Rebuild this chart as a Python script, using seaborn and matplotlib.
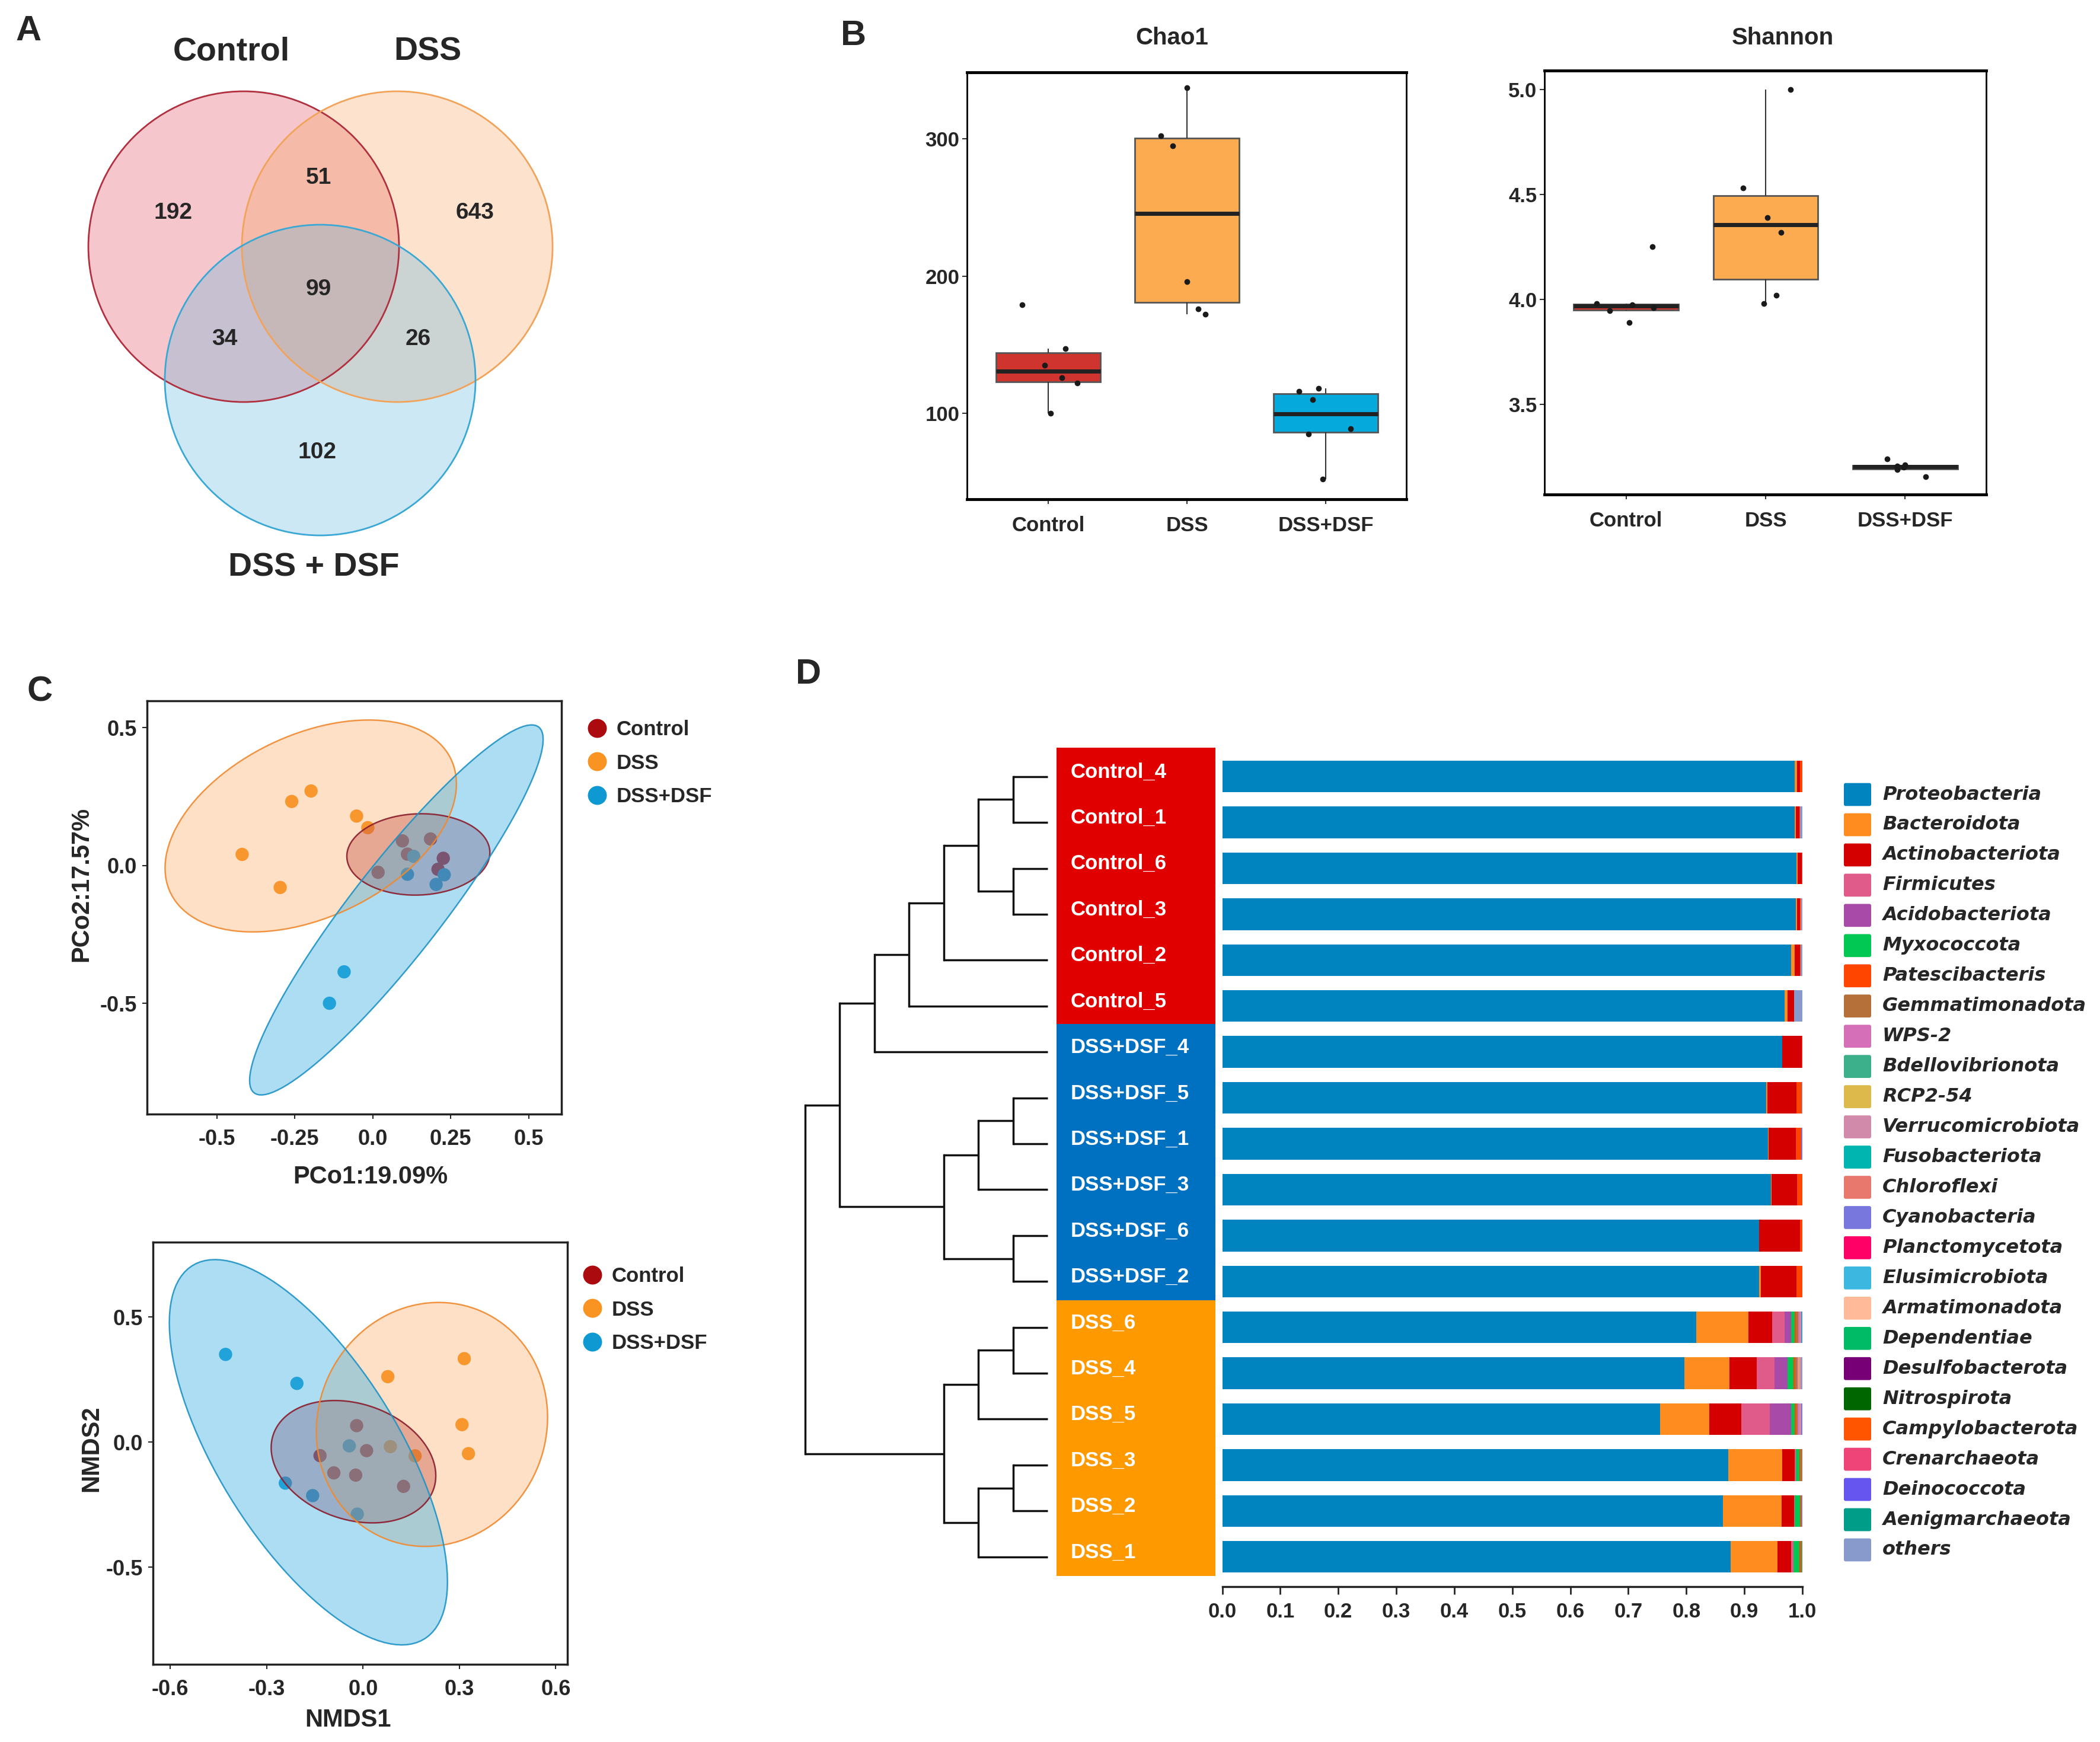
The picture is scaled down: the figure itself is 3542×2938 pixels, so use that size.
import numpy as np
import pandas as pd
import matplotlib
matplotlib.use('Agg')
import matplotlib.pyplot as plt
from matplotlib.patches import Circle, Polygon, Rectangle, FancyBboxPatch
from matplotlib.lines import Line2D
import seaborn as sns

# ---------------- data ----------------
groups = ['Control', 'DSS', 'DSS+DSF']
group_colors = ['#ab0a0f', '#f99321', '#0f99d3']

# Venn (OTU counts)
venn_sets = ['Control', 'DSS', 'DSS + DSF']
venn_regions = ['Control only', 'DSS only', 'DSS+DSF only', 'Control&DSS',
                'Control&DSS+DSF', 'DSS&DSS+DSF', 'all']
venn_counts = [192, 643, 102, 51, 34, 26, 99]

# alpha diversity
chao1_control = [179, 147, 135, 126, 122, 100]
chao1_dss = [337, 302, 295, 196, 176, 172]
chao1_dssdsf = [118, 116, 110, 89, 85, 52]
shannon_control = [4.25, 3.979, 3.974, 3.96, 3.945, 3.888]
shannon_dss = [5.0, 4.53, 4.39, 4.32, 4.02, 3.98]
shannon_dssdsf = [3.24, 3.21, 3.205, 3.2, 3.19, 3.155]

# PCoA
pcoa_control_x = [0.095, 0.185, 0.111, 0.226, 0.209, 0.017]
pcoa_control_y = [0.089, 0.096, 0.041, 0.026, -0.014, -0.025]
pcoa_dss_x = [-0.26, -0.198, -0.052, -0.016, -0.419, -0.297]
pcoa_dss_y = [0.232, 0.27, 0.179, 0.137, 0.04, -0.08]
pcoa_dsf_x = [0.131, 0.111, 0.229, 0.203, -0.092, -0.139]
pcoa_dsf_y = [0.033, -0.032, -0.034, -0.069, -0.386, -0.5]

# NMDS
nmds_control_x = [-0.02, 0.011, -0.134, -0.091, -0.023, 0.126]
nmds_control_y = [0.066, -0.034, -0.054, -0.123, -0.132, -0.177]
nmds_dss_x = [0.077, 0.315, 0.308, 0.328, 0.085, 0.162]
nmds_dss_y = [0.262, 0.334, 0.07, -0.046, -0.018, -0.055]
nmds_dsf_x = [-0.428, -0.206, -0.043, -0.242, -0.157, -0.018]
nmds_dsf_y = [0.351, 0.235, -0.015, -0.164, -0.214, -0.288]

# phylum composition (top to bottom order of the dendrogram)
samples = ['Control_4', 'Control_1', 'Control_6', 'Control_3', 'Control_2', 'Control_5',
           'DSS+DSF_4', 'DSS+DSF_5', 'DSS+DSF_1', 'DSS+DSF_3', 'DSS+DSF_6', 'DSS+DSF_2',
           'DSS_6', 'DSS_4', 'DSS_5', 'DSS_3', 'DSS_2', 'DSS_1']
proteobacteria = [0.987, 0.987, 0.990, 0.989, 0.981, 0.969, 0.965, 0.938, 0.941, 0.9455, 0.925, 0.925,
                  0.8175, 0.797, 0.755, 0.8727, 0.8635, 0.8765]
bacteroidota = [0.004, 0.002, 0.0015, 0.002, 0.0055, 0.005, 0.0, 0.002, 0.001, 0.001, 0.0, 0.0035,
                0.0898, 0.0778, 0.0842, 0.093, 0.1004, 0.081]
actinobacteriota = [0.005, 0.006, 0.0075, 0.005, 0.009, 0.0113, 0.034, 0.0495, 0.047, 0.0445, 0.0707, 0.0615,
                    0.0403, 0.0467, 0.0555, 0.0212, 0.0219, 0.0233]
firmicutes = [0, 0, 0, 0, 0, 0, 0, 0, 0, 0, 0, 0, 0.0219, 0.030, 0.0495, 0.002, 0.001, 0.004]
acidobacteriota = [0, 0, 0, 0, 0, 0, 0, 0, 0, 0, 0, 0, 0.0106, 0.023, 0.0364, 0, 0, 0]
myxococcota = [0, 0, 0, 0, 0, 0, 0, 0, 0, 0, 0, 0, 0.0064, 0.0099, 0.0057, 0.0057, 0.0092, 0.0106]
patescibacteris = [0.004, 0.001, 0.001, 0.001, 0.001, 0.0007, 0.001, 0.0095, 0.0085, 0.0085, 0.0043, 0.0099,
                   0.002, 0.002, 0.002, 0.001, 0.001, 0.002]
gemmatimonadota = [0, 0, 0, 0, 0, 0, 0, 0, 0, 0, 0, 0, 0.004, 0.004, 0.004, 0.004, 0.002, 0.0016]
wps2 = [0, 0, 0, 0, 0, 0, 0, 0, 0, 0, 0, 0, 0.002, 0.002, 0.002, 0, 0, 0]
rcp2_54 = [0, 0, 0, 0, 0, 0, 0, 0, 0, 0, 0, 0, 0, 0.003, 0, 0.0004, 0, 0]
verrucomicrobiota = [0, 0, 0, 0, 0, 0, 0, 0, 0, 0, 0, 0, 0.003, 0.003, 0.004, 0, 0, 0]
fusobacteriota = [0, 0, 0, 0, 0, 0, 0, 0, 0, 0, 0, 0, 0.0015, 0, 0, 0, 0, 0]
chloroflexi = [0, 0, 0, 0.001, 0, 0, 0, 0, 0, 0, 0, 0, 0, 0, 0, 0, 0, 0]
cyanobacteria = [0, 0, 0, 0, 0, 0, 0, 0, 0.0025, 0, 0, 0, 0.001, 0, 0.0017, 0, 0.001, 0]
dependentiae = [0, 0, 0, 0, 0, 0, 0, 0, 0, 0, 0, 0, 0, 0, 0, 0, 0, 0.001]
others = [0, 0.004, 0, 0.002, 0.0035, 0.014, 0, 0.001, 0, 0.0005, 0, 0.0001,
          0, 0.0016, 0, 0, 0, 0]

phyla = ['Proteobacteria', 'Bacteroidota', 'Actinobacteriota', 'Firmicutes', 'Acidobacteriota',
         'Myxococcota', 'Patescibacteris', 'Gemmatimonadota', 'WPS-2', 'Bdellovibrionota',
         'RCP2-54', 'Verrucomicrobiota', 'Fusobacteriota', 'Chloroflexi', 'Cyanobacteria',
         'Planctomycetota', 'Elusimicrobiota', 'Armatimonadota', 'Dependentiae',
         'Desulfobacterota', 'Nitrospirota', 'Campylobacterota', 'Crenarchaeota',
         'Deinococcota', 'Aenigmarchaeota', 'others']
phylum_colors = ['#0084c0', '#ff8c1f', '#d40000', '#e05a8a', '#a74aa8', '#00c853', '#ff4500',
                 '#b5703a', '#d46fb8', '#3cb08a', '#dcb94a', '#d28aab', '#00b4b0', '#e8786e',
                 '#7777dd', '#ff0066', '#3cb8e0', '#ffbb99', '#00bb66', '#770077', '#006600',
                 '#ff5500', '#ee4477', '#6655ee', '#009e88', '#8899cc']

# dendrogram merges (scipy style: leaves 0..17, new nodes from 18), height in levels
merges = [(0, 1, 1), (2, 3, 1), (18, 19, 2), (20, 4, 3), (21, 5, 4), (22, 6, 5),
          (7, 8, 1), (24, 9, 2), (10, 11, 1), (25, 26, 3), (23, 27, 6),
          (12, 13, 1), (29, 14, 2), (15, 16, 1), (31, 17, 2), (30, 32, 3), (28, 33, 7)]

# ---------------- helpers ----------------
W, H = 3542, 2938


def rect(left, top, right, bottom):
    return [left / W, 1 - bottom / H, (right - left) / W, (bottom - top) / H]


def fx(x):
    return x / W


def fy(y):
    return 1 - y / H


def cov_trob(x, nu=5, maxit=25, tol=0.01):
    # multivariate t robust covariance, as MASS::cov.trob
    n, p = x.shape
    wt = np.ones(n)
    loc = x.mean(axis=0)
    w = np.sqrt(wt)
    X = x - loc
    for _ in range(maxit):
        w0 = w
        X = x - loc
        sw = np.sqrt(w / w.sum())[:, None]
        _, d, vt = np.linalg.svd(sw * X, full_matrices=False)
        wX = X @ vt.T @ np.diag(1 / d)
        Q = (wX ** 2).sum(axis=1)
        w = wt * (nu + p) / (nu + Q)
        loc = (w[:, None] * x).sum(axis=0) / w.sum()
        if np.all(np.abs(w - w0) < tol):
            break
    sX = np.sqrt(w)[:, None] * X
    return loc, sX.T @ sX / wt.sum()


def t_ellipse(xs, ys, f_quant=5.786135, segments=120):
    # like ggplot2 stat_ellipse(type='t', level=0.95) for n=6
    pts = np.column_stack([xs, ys])
    loc, cov = cov_trob(pts)
    radius = np.sqrt(2 * f_quant)
    ang = np.linspace(0, 2 * np.pi, segments + 1)
    circ = np.column_stack([np.cos(ang), np.sin(ang)])
    chol = np.linalg.cholesky(cov).T
    return loc + radius * circ @ chol


sns.set_style('white')
plt.rcParams['font.family'] = ['Liberation Sans', 'DejaVu Sans']
plt.rcParams['font.weight'] = 'bold'
plt.rcParams['axes.labelweight'] = 'bold'

fig = plt.figure(figsize=(W / 100, H / 100), dpi=100)

# panel letters
for letter, (px, py) in zip('ABCD', [(48, 52), (1440, 61), (67, 1167), (1364, 1137)]):
    fig.text(fx(px), fy(py), letter, fontsize=43, fontweight='bold', ha='center', va='center')

# ---------------- A: Venn ----------------
ax_v = fig.add_axes([0, 1 - 1000 / H, 1000 / W, 1000 / H])
ax_v.set_xlim(0, 1000)
ax_v.set_ylim(1000, 0)
ax_v.axis('off')
venn_centers = [(411, 416), (670, 416), (540, 641)]
venn_fill = ['#e35d6a', '#fba05a', '#5ab4e0']
venn_edge = ['#b0303f', '#f2a35a', '#3aa8d4']
venn_alpha = [0.35, 0.3, 0.3]
for (cx, cy), fc, a in zip(venn_centers, venn_fill, venn_alpha):
    ax_v.add_patch(Circle((cx, cy), 262, facecolor=fc, alpha=a, edgecolor='none'))
for (cx, cy), ec in zip(venn_centers, venn_edge):
    ax_v.add_patch(Circle((cx, cy), 262, facecolor='none', edgecolor=ec, lw=2))
venn_pos = [(292, 359), (801, 359), (535, 763), (538, 300), (379, 572), (705, 572), (537, 488)]
for (tx, ty), n in zip(venn_pos, venn_counts):
    ax_v.text(tx, ty, str(n), fontsize=28, fontweight='bold', ha='center', va='center')
for name, (tx, ty) in zip(venn_sets, [(390, 88), (721, 88), (529, 958)]):
    ax_v.text(tx, ty, name, fontsize=40, fontweight='bold', ha='center', va='center')

# ---------------- B: alpha diversity ----------------
df_alpha = pd.DataFrame({
    'group': np.repeat(groups, 6),
    'Chao1': chao1_control + chao1_dss + chao1_dssdsf,
    'Shannon': shannon_control + shannon_dss + shannon_dssdsf,
})
box_colors = {'Control': '#d0342f', 'DSS': '#fdab50', 'DSS+DSF': '#05a9db'}
np.random.seed(7)
for metric, r, ylim, yticks, ylabels, tpos in [
        ('Chao1', rect(1631, 122, 2372, 842), (37.4, 348.4), [100, 200, 300], ['100', '200', '300'], 1977),
        ('Shannon', rect(2605, 119, 3350, 834), (3.07, 5.09), [3.5, 4.0, 4.5, 5.0], ['3.5', '4.0', '4.5', '5.0'], 3007)]:
    ax = fig.add_axes(r)
    sns.boxplot(data=df_alpha, x='group', y=metric, hue='group', order=groups, hue_order=groups,
                palette=box_colors, width=0.75, linewidth=2, linecolor='#555555', saturation=1,
                showfliers=False, showcaps=False, legend=False,
                medianprops={'color': '#222222', 'linewidth': 5},
                whiskerprops={'color': '#333333', 'linewidth': 1.5}, ax=ax)
    sns.stripplot(data=df_alpha, x='group', y=metric, order=groups, color='#1a1a1a',
                  size=7, jitter=0.22, ax=ax)
    ax.set_xlim(-0.585, 2.58)
    ax.set_ylim(*ylim)
    ax.set_yticks(yticks)
    ax.set_yticklabels(ylabels)
    ax.set_xlabel('')
    ax.set_ylabel('')
    ax.tick_params(axis='both', direction='out', length=6, width=1.5, labelsize=25, color='#333333',
                   left=True, bottom=True)
    ax.tick_params(axis='y', pad=3)
    ax.tick_params(axis='x', pad=14)
    for t in ax.get_xticklabels() + ax.get_yticklabels():
        t.set_fontweight('bold')
    for side, sp in ax.spines.items():
        sp.set_visible(True)
        sp.set_color('black')
        sp.set_linewidth(3.5 if side in ('top', 'bottom') else 2)
    fig.text(fx(tpos), fy(64), metric, fontsize=29, fontweight='bold', ha='center', va='center')

# ---------------- C: PCoA and NMDS ----------------
ell_fill = {'Control': '#a8283e', 'DSS': '#fba04e', 'DSS+DSF': '#3bb0e3'}
ell_edge = {'Control': '#8a1c2c', 'DSS': '#f08a30', 'DSS+DSF': '#1f93c6'}
ell_alpha = {'Control': 0.38, 'DSS': 0.32, 'DSS+DSF': 0.42}


def ordination(r, xs, ys, xlim, ylim, xticks, xlabels, yticks, xname, yname, xname_pos, yname_pos, leg_anchor):
    ax = fig.add_axes(r)
    df = pd.DataFrame({'group': np.repeat(groups, 6),
                       'x': xs[0] + xs[1] + xs[2], 'y': ys[0] + ys[1] + ys[2]})
    sns.scatterplot(data=df, x='x', y='y', hue='group', hue_order=groups, palette=group_colors,
                    s=260, edgecolor='none', legend=False, ax=ax, zorder=2)
    for g, gx, gy in zip(groups, xs, ys):
        e = t_ellipse(gx, gy)
        ax.add_patch(Polygon(e, closed=True, facecolor=ell_fill[g], alpha=ell_alpha[g],
                             edgecolor='none', zorder=3))
        ax.add_patch(Polygon(e, closed=True, facecolor='none', edgecolor=ell_edge[g],
                             lw=1.8, alpha=0.9, zorder=4))
    ax.set_xlim(*xlim)
    ax.set_ylim(*ylim)
    ax.set_xticks(xticks)
    ax.set_xticklabels(xlabels)
    ax.set_yticks(yticks)
    ax.set_yticklabels(['%.1f' % v for v in yticks])
    ax.set_xlabel('')
    ax.set_ylabel('')
    ax.tick_params(axis='both', direction='out', length=6, width=1.5, labelsize=26, left=True, bottom=True)
    ax.tick_params(axis='x', pad=12)
    ax.tick_params(axis='y', pad=6)
    for t in ax.get_xticklabels() + ax.get_yticklabels():
        t.set_fontweight('bold')
    for sp in ax.spines.values():
        sp.set_visible(True)
        sp.set_color('#222222')
        sp.set_linewidth(2.5)
    fig.text(fx(xname_pos[0]), fy(xname_pos[1]), xname, fontsize=30, fontweight='bold',
             ha='center', va='center')
    fig.text(fx(yname_pos[0]), fy(yname_pos[1]), yname, fontsize=30, fontweight='bold',
             ha='center', va='center', rotation=90)
    handles = [Line2D([0], [0], marker='o', linestyle='none', markersize=23,
                      markerfacecolor=c, markeredgecolor='none') for c in group_colors]
    fig.legend(handles, groups, loc='upper left', bbox_to_anchor=(fx(leg_anchor[0]), fy(leg_anchor[1])),
               frameon=False, borderpad=0, borderaxespad=0, handlelength=1.0, handletextpad=0.42,
               labelspacing=0.68, prop={'size': 25, 'weight': 'bold'})
    return ax


ordination(rect(248, 1182, 947, 1879),
           [pcoa_control_x, pcoa_dss_x, pcoa_dsf_x], [pcoa_control_y, pcoa_dss_y, pcoa_dsf_y],
           (-0.724, 0.605), (-0.902, 0.597), [-0.5, -0.25, 0.0, 0.25, 0.5],
           ['-0.5', '-0.25', '0.0', '0.25', '0.5'], [-0.5, 0.0, 0.5],
           'PCo1:19.09%', 'PCo2:17.57%', (625, 1985), (137, 1491), (990, 1214))

ordination(rect(258, 2095, 957, 2807),
           [nmds_control_x, nmds_dss_x, nmds_dsf_x], [nmds_control_y, nmds_dss_y, nmds_dsf_y],
           (-0.654, 0.636), (-0.889, 0.80), [-0.6, -0.3, 0.0, 0.3, 0.6],
           ['-0.6', '-0.3', '0.0', '0.3', '0.6'], [-0.5, 0.0, 0.5],
           'NMDS1', 'NMDS2', (587, 2901), (154, 2443), (982, 2136))

# ---------------- D: dendrogram + stacked bars ----------------
rows = np.arange(len(samples))
ylim_d = (17.65, -0.5)
top_d, bot_d = 1271, 2676

# dendrogram
ax_d = fig.add_axes(rect(1358, top_d, 1767, bot_d))
ax_d.set_xlim(7, 0)
ax_d.set_ylim(*ylim_d)
ax_d.axis('off')
node_y = {i: float(i) for i in rows}
node_h = {i: 0.0 for i in rows}
for k, (a, b, h) in enumerate(merges):
    nid = len(samples) + k
    ax_d.plot([node_h[a], h], [node_y[a], node_y[a]], color='#111111', lw=2.5, clip_on=False,
              solid_capstyle='butt')
    ax_d.plot([node_h[b], h], [node_y[b], node_y[b]], color='#111111', lw=2.5, clip_on=False,
              solid_capstyle='butt')
    ax_d.plot([h, h], [node_y[a], node_y[b]], color='#111111', lw=2.5, clip_on=False,
              solid_capstyle='projecting')
    node_y[nid] = (node_y[a] + node_y[b]) / 2
    node_h[nid] = h

# sample label boxes
label_colors = {'Control': '#e00000', 'DSS+DSF': '#0070c0', 'DSS': '#ff9900'}
ax_l = fig.add_axes(rect(1782, top_d, 2050, bot_d))
ax_l.set_xlim(0, 1)
ax_l.set_ylim(*ylim_d)
ax_l.axis('off')
for g, (y0, y1) in zip(['Control', 'DSS+DSF', 'DSS'], [(-0.63, 5.39), (5.39, 11.41), (11.41, 17.42)]):
    ax_l.add_patch(Rectangle((0, y0), 1, y1 - y0, facecolor=label_colors[g], edgecolor='none',
                             clip_on=False))
for r_, name in zip(rows, samples):
    ax_l.text(0.09, r_ - 0.1, name, color='white', fontsize=25, fontweight='bold',
              ha='left', va='center')

# stacked bars
abund = pd.DataFrame({
    'Proteobacteria': proteobacteria, 'Bacteroidota': bacteroidota,
    'Actinobacteriota': actinobacteriota, 'Firmicutes': firmicutes,
    'Acidobacteriota': acidobacteriota, 'Myxococcota': myxococcota,
    'Patescibacteris': patescibacteris, 'Gemmatimonadota': gemmatimonadota,
    'WPS-2': wps2, 'RCP2-54': rcp2_54, 'Verrucomicrobiota': verrucomicrobiota,
    'Fusobacteriota': fusobacteriota, 'Chloroflexi': chloroflexi,
    'Cyanobacteria': cyanobacteria, 'Dependentiae': dependentiae, 'others': others,
}, index=samples).reindex(columns=phyla, fill_value=0.0)

ax_b = fig.add_axes(rect(2061.5, top_d, 3040, bot_d))
left = np.zeros(len(samples))
for p, c in zip(phyla, phylum_colors):
    vals = abund[p].values
    if vals.sum() > 0:
        ax_b.barh(rows, vals, left=left, height=0.69, color=c, edgecolor='none')
    left = left + vals
ax_b.set_xlim(0, 1.0)
ax_b.set_ylim(*ylim_d)
ax_b.set_xticks(np.arange(0, 1.01, 0.1))
ax_b.set_xticklabels(['%.1f' % v for v in np.arange(0, 1.01, 0.1)])
ax_b.set_yticks([])
for side in ('top', 'right', 'left'):
    ax_b.spines[side].set_visible(False)
ax_b.spines['bottom'].set_color('#222222')
ax_b.spines['bottom'].set_linewidth(2.5)
ax_b.tick_params(axis='x', direction='out', length=9, width=2, labelsize=25, pad=10, bottom=True)
for t in ax_b.get_xticklabels():
    t.set_fontweight('bold')

# phylum legend (one swatch + name per row)
leg_top, leg_step = 1340, 50.96
ax_k = fig.add_axes(rect(3090, leg_top - leg_step / 2, 3542, leg_top + leg_step * 25.5))
ax_k.set_xlim(3090, 3542)
ax_k.set_ylim(25.5, -0.5)
ax_k.axis('off')
for i, (p, c) in enumerate(zip(phyla, phylum_colors)):
    ax_k.add_patch(FancyBboxPatch((3110, i - 0.38), 46, 0.76, boxstyle='round,pad=0,rounding_size=3',
                                  mutation_aspect=0.76 / 40, facecolor=c, edgecolor='none'))
    ax_k.text(3175, i, p, fontsize=23, fontweight='bold', fontstyle='italic', family='DejaVu Sans',
              ha='left', va='center')

fig.savefig('out.png', dpi=100, facecolor='white')
